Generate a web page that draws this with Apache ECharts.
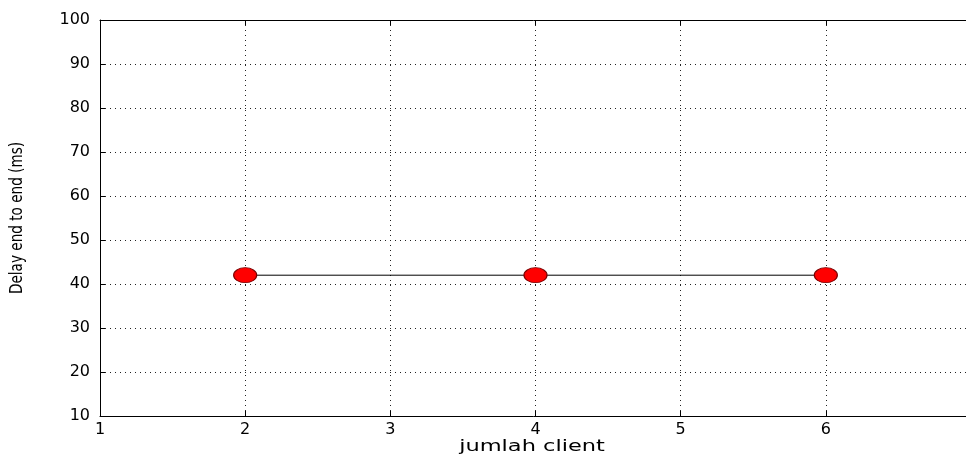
<!DOCTYPE html>
<html>
<head>
<meta charset="utf-8">
<script src="https://cdn.jsdelivr.net/npm/echarts@6/dist/echarts.min.js"></script>
<style>
  html, body { margin: 0; padding: 0; background: #fff; }
  #chart { width: 966px; height: 458px; }
</style>
</head>
<body>
<div id="chart"></div>
<script>
  // data
  var jumlahClient = [2, 4, 6];
  var delayMs = [42, 42, 42];
  var xTitle = "jumlah client";
  var yTitle = "Delay end to end (ms)";

  var chart = echarts.init(document.getElementById("chart"));
  var pts = jumlahClient.map(function (x, i) { return [x, delayMs[i]]; });

  var tickFont = { color: "#000", fontSize: 16, fontFamily: "DejaVu Sans" };
  var dotted = { show: true, lineStyle: { color: "#222", type: [1, 4], width: 1 } };
  var inTick = { show: true, inside: true, length: 5, lineStyle: { color: "#000" } };
  var blackLine = { show: true, lineStyle: { color: "#000", width: 1 } };

  var option = {
    animation: false,
    backgroundColor: "#fff",
    grid: { left: 100, right: -5, top: 20, bottom: 42, outerBoundsMode: "none" },
    xAxis: [
      {
        type: "value", min: 1, max: 7, interval: 1,
        axisLine: blackLine, axisTick: inTick,
        axisLabel: Object.assign({ margin: 6, showMaxLabel: true, hideOverlap: false }, tickFont),
        splitLine: dotted
      },
      {
        type: "value", position: "top", min: 1, max: 7, interval: 1,
        axisLine: blackLine, axisTick: inTick,
        axisLabel: { show: false }, splitLine: { show: false }
      }
    ],
    yAxis: [
      {
        type: "value", min: 10, max: 100, interval: 10,
        axisLine: blackLine, axisTick: inTick,
        axisLabel: Object.assign({ margin: 10 }, tickFont),
        splitLine: dotted
      },
      {
        type: "value", position: "right", min: 10, max: 100, interval: 10,
        axisLine: blackLine, axisTick: inTick,
        axisLabel: { show: false }, splitLine: { show: false }
      }
    ],
    graphic: [
      {
        type: "text", x: 532, y: 447, scaleX: 1.5,
        style: { text: xTitle, font: "15px DejaVu Sans", fill: "#000", textAlign: "center", textVerticalAlign: "middle" }
      },
      {
        type: "text", x: 18, y: 218, rotation: Math.PI / 2, scaleX: 0.8,
        style: { text: yTitle, font: "17px DejaVu Sans", fill: "#000", textAlign: "center", textVerticalAlign: "middle" }
      }
    ],
    series: [
      {
        type: "line",
        data: pts,
        symbol: "circle",
        symbolSize: [23, 15],
        lineStyle: { color: "#000", width: 1 },
        itemStyle: { color: "#ff0000", borderColor: "#7a0000", borderWidth: 1, opacity: 1 }
      }
    ]
  };

  chart.setOption(option);
</script>
</body>
</html>
